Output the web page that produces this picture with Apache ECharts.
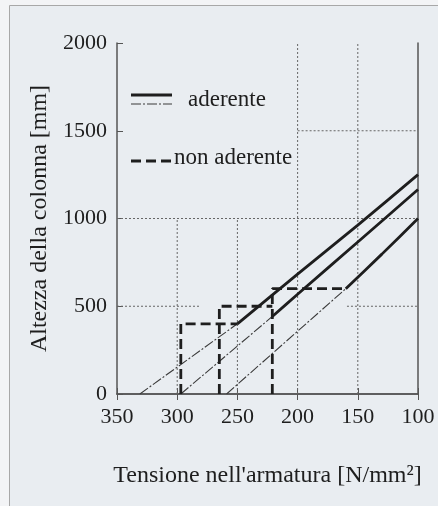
<!DOCTYPE html>
<html>
<head>
<meta charset="utf-8">
<script src="https://cdn.jsdelivr.net/npm/echarts@6/dist/echarts.min.js"></script>
<style>
  html, body { margin: 0; padding: 0; background: #f3f4f6; }
  #chart { width: 438px; height: 506px; }
</style>
</head>
<body>
<div id="chart"></div>
<script>
// assi
const xTicks = [350, 300, 250, 200, 150, 100];
const yTicks = [0, 500, 1000, 1500, 2000];

// griglia tratteggiata (solo tratti visibili)
const gridSegments = [
  [[300, 0], [300, 1000]],
  [[250, 0], [250, 1000]],
  [[200, 0], [200, 2000]],
  [[150, 0], [150, 2000]],
  [[200, 1500], [100, 1500]],
  [[350, 1000], [100, 1000]],
  [[350, 500], [281, 500]],
  [[159, 500], [100, 500]]
];

// aderente: tratto sottile (tratto-punto) + tratto spesso
const aderenteThin = [
  [[331, 0], [250, 400]],
  [[297, 0], [221, 442]],
  [[259, 0], [160, 600]]
];
const aderenteThick = [
  [[250, 400], [200, 683], [150, 962], [100, 1250]],
  [[221, 442], [200, 568], [150, 866], [100, 1165]],
  [[160, 600], [130, 797], [100, 1000]]
];

// non aderente: gradini
const nonAderente = [
  [[297, 0], [297, 400], [250, 400]],
  [[265, 0], [265, 500], [221, 500]],
  [[221, 0], [221, 600], [160, 600]]
];

const chart = echarts.init(document.getElementById('chart'));
const FONT = '"Liberation Serif", "DejaVu Serif", serif';
const INK = '#1e1e1e';

const series = [];
gridSegments.forEach(seg => {
  series.push({
    type: 'line', data: seg, symbol: 'none', silent: true,
    lineStyle: { color: '#666', width: 1, type: [2, 2] }
  });
});
aderenteThin.forEach(seg => {
  series.push({
    type: 'line', data: seg, symbol: 'none', silent: true,
    lineStyle: { color: '#3a3a3a', width: 1.1, type: [10, 2, 2, 2] }
  });
});
aderenteThick.forEach(seg => {
  series.push({
    type: 'line', data: seg, symbol: 'none', silent: true, smooth: 0.2,
    lineStyle: { color: INK, width: 2.8 }
  });
});
nonAderente.forEach(seg => {
  series.push({
    type: 'line', data: seg, symbol: 'none', silent: true,
    lineStyle: { color: INK, width: 2.8, type: [10, 5] }
  });
});

const option = {
  animation: false,
  backgroundColor: '#f3f4f6',
  grid: { left: 117, right: 20, top: 43, bottom: 112, show: false },
  xAxis: [{
    type: 'value', min: 100, max: 350, interval: 50, inverse: true,
    name: "Tensione nell'armatura [N/mm²]",
    nameLocation: 'middle', nameGap: 70,
    nameTextStyle: { fontFamily: FONT, fontSize: 24, color: INK },
    axisLine: { show: true, lineStyle: { color: '#555', width: 1.5 } },
    axisTick: { show: true, inside: true, length: 6, lineStyle: { color: '#555' } },
    axisLabel: { fontFamily: FONT, fontSize: 22, color: INK, margin: 12,
      formatter: v => xTicks.includes(v) ? String(v) : '' },
    splitLine: { show: false }
  }, {
    type: 'value', min: 100, max: 350, interval: 50, inverse: true, position: 'top',
    axisLine: { show: true, lineStyle: { color: '#555', width: 1.5 } },
    axisTick: { show: true, inside: true, length: 6, lineStyle: { color: '#555' } },
    axisLabel: { show: false },
    splitLine: { show: false }
  }],
  yAxis: [{
    type: 'value', min: 0, max: 2000, interval: 500,
    name: 'Altezza della colonna [mm]',
    nameLocation: 'middle', nameGap: 62,
    nameTextStyle: { fontFamily: FONT, fontSize: 24, color: INK },
    axisLine: { show: true, lineStyle: { color: '#555', width: 1.5 } },
    axisTick: { show: true, inside: true, length: 6, lineStyle: { color: '#555' } },
    axisLabel: { fontFamily: FONT, fontSize: 22, color: INK, margin: 10,
      formatter: v => yTicks.includes(v) ? String(v) : '' },
    splitLine: { show: false }
  }, {
    type: 'value', min: 0, max: 2000, interval: 500, position: 'right',
    axisLine: { show: true, lineStyle: { color: '#555', width: 1.5 } },
    axisTick: { show: false },
    axisLabel: { show: false },
    splitLine: { show: false }
  }],
  graphic: [
    {
      type: 'rect', z: -10, silent: true,
      shape: { x: 9.5, y: 5.5, width: 440, height: 510 },
      style: { fill: '#e9edf1', stroke: '#a8a8a8', lineWidth: 1 }
    },
    // legenda
    { type: 'line', shape: { x1: 131, y1: 95, x2: 172, y2: 95 },
      style: { stroke: INK, lineWidth: 2.8 } },
    { type: 'line', shape: { x1: 131, y1: 104, x2: 172, y2: 104 },
      style: { stroke: '#3a3a3a', lineWidth: 1.1, lineDash: [10, 2, 2, 2] } },
    { type: 'text', x: 188, y: 100,
      style: { text: 'aderente', font: '23px ' + FONT, fill: INK, verticalAlign: 'middle' } },
    { type: 'line', shape: { x1: 131, y1: 161, x2: 173, y2: 161 },
      style: { stroke: INK, lineWidth: 2.8, lineDash: [10, 5] } },
    { type: 'text', x: 174, y: 158,
      style: { text: 'non aderente', font: '23px ' + FONT, fill: INK, verticalAlign: 'middle' } }
  ],
  series: series
};

chart.setOption(option);
</script>
</body>
</html>
